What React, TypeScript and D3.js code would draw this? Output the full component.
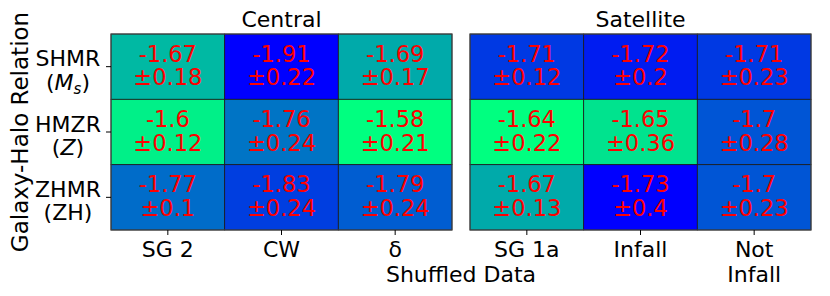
import * as d3 from "d3";

const rowLabels = [["SHMR", "(M_s)"], ["HMZR", "(Z)"], ["ZHMR", "(ZH)"]];
const centralCols = [["SG 2"], ["CW"], ["δ"]];
const satelliteCols = [["SG 1a"], ["Infall"], ["Not", "Infall"]];

// rows x cols
const centralMean = [
  [-1.67, -1.91, -1.69],
  [-1.6, -1.76, -1.58],
  [-1.77, -1.83, -1.79],
];
const centralErr = [
  [0.18, 0.22, 0.17],
  [0.12, 0.24, 0.21],
  [0.1, 0.24, 0.24],
];
const satelliteMean = [
  [-1.71, -1.72, -1.71],
  [-1.64, -1.65, -1.7],
  [-1.67, -1.73, -1.7],
];
const satelliteErr = [
  [0.12, 0.2, 0.23],
  [0.22, 0.36, 0.28],
  [0.13, 0.4, 0.23],
];

const W = 830;
const H = 296;
const FONT = "DejaVu Sans, sans-serif";
const fs = 22;

function Panel({ x0, x1, y0, y1, title, cols, mean, err, yTicks }: any) {
  const x = d3.scaleBand<number>().domain(d3.range(cols.length)).range([x0, x1]);
  const y = d3.scaleBand<number>().domain(d3.range(mean.length)).range([y0, y1]);
  const flat = mean.flat();
  // winter colormap, normalised per panel
  const color = d3
    .scaleLinear<string>()
    .domain([d3.min(flat) as number, d3.max(flat) as number])
    .range(["rgb(0,0,255)", "rgb(0,255,128)"])
    .interpolate(d3.interpolateRgb);

  return (
    <g>
      <text x={(x0 + x1) / 2} y={y0 - 7} textAnchor="middle" fontSize={fs}>
        {title}
      </text>
      {mean.map((row: number[], i: number) =>
        row.map((v, j) => (
          <g key={`${i}-${j}`}>
            <rect
              x={x(j)}
              y={y(i)}
              width={x.bandwidth()}
              height={y.bandwidth()}
              fill={color(v)}
              stroke="#1a1a1a"
              strokeWidth={0.8}
            />
            <text
              x={(x(j) as number) + x.bandwidth() / 2}
              y={(y(i) as number) + y.bandwidth() / 2 - 5}
              textAnchor="middle"
              fill="red"
              fontSize={22.5}
            >
              {String(v)}
            </text>
            <text
              x={(x(j) as number) + x.bandwidth() / 2}
              y={(y(i) as number) + y.bandwidth() / 2 + 18.5}
              textAnchor="middle"
              fill="red"
              fontSize={22.5}
            >
              {"±" + String(err[i][j])}
            </text>
          </g>
        ))
      )}
      <rect x={x0} y={y0} width={x1 - x0} height={y1 - y0} fill="none" stroke="#444" strokeWidth={1} />
      {cols.map((lines: string[], j: number) => {
        const cx = (x(j) as number) + x.bandwidth() / 2;
        return (
          <g key={j}>
            <line x1={cx} x2={cx} y1={y1} y2={y1 + 5} stroke="#000" strokeWidth={1} />
            {lines.map((t, k) => (
              <text key={k} x={cx} y={y1 + 27 + k * 25} textAnchor="middle" fontSize={fs}>
                {t}
              </text>
            ))}
          </g>
        );
      })}
      {yTicks &&
        rowLabels.map((lines, i) => {
          const cy = (y(i) as number) + y.bandwidth() / 2;
          return (
            <g key={i}>
              <line x1={x0 - 5} x2={x0} y1={cy} y2={cy} stroke="#000" strokeWidth={1} />
              <text x={68} y={cy - 0.5} textAnchor="middle" fontSize={fs}>
                {lines[0]}
              </text>
              <text x={68} y={cy + 23} textAnchor="middle" fontSize={fs}>
                {lines[1] === "(M_s)" ? (
                  <>
                    (<tspan fontStyle="italic">M</tspan>
                    <tspan fontStyle="italic" fontSize={15} dy={4}>s</tspan>
                    <tspan dy={-4}>)</tspan>
                  </>
                ) : lines[1] === "(Z)" ? (
                  <>
                    (<tspan fontStyle="italic">Z</tspan>)
                  </>
                ) : (
                  lines[1]
                )}
              </text>
            </g>
          );
        })}
    </g>
  );
}

export default function App() {
  const top = 34;
  const bottom = 230;
  return (
    <svg width={W} height={H} style={{ display: "block", position: "absolute", left: 0, top: 0 }} fontFamily={FONT}>
      <rect width={W} height={H} fill="#fff" />
      <Panel x0={111} x1={452} y0={top} y1={bottom} title="Central" cols={centralCols} mean={centralMean} err={centralErr} yTicks />
      <Panel x0={470} x1={811} y0={top} y1={bottom} title="Satellite" cols={satelliteCols} mean={satelliteMean} err={satelliteErr} />
      <text x={461} y={282} textAnchor="middle" fontSize={fs}>
        Shuffled Data
      </text>
      <text transform={`translate(28,${(top + bottom) / 2}) rotate(-90)`} textAnchor="middle" fontSize={23}>
        Galaxy-Halo Relation
      </text>
    </svg>
  );
}
